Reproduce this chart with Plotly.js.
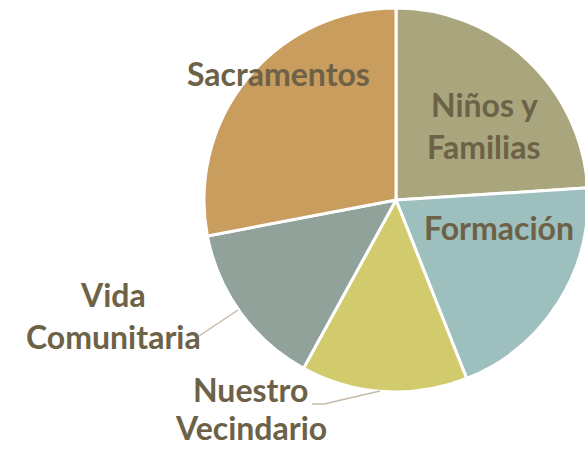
<!DOCTYPE html>
<html><head><meta charset="utf-8">
<script src="https://cdn.plot.ly/plotly-3.0.1.min.js"></script>
<style>html,body{margin:0;padding:0;overflow:hidden;background:#fff}#c{width:588px;height:449px}</style>
</head><body><div id="c"></div>
<script>
const labels = ["Niños y Familias", "Formación", "Nuestro Vecindario", "Vida Comunitaria", "Sacramentos"];
const labelLines = [["Niños y", "Familias"], ["Formación"], ["Nuestro", "Vecindario"], ["Vida", "Comunitaria"], ["Sacramentos"]];
const values = [24, 20, 14, 14, 28];
const colors = ["#A9A57C", "#9DBFBE", "#D2CB6D", "#91A29A", "#C89D5E"];

const W = 588, H = 449;
const px = (x) => x / W, py = (y) => 1 - y / H;
// label line positions (pixels): [x, first line y, line gap]
const labelPos = [[484, 104, 42], [499, 227, 42], [251, 389, 40], [113, 294, 42], [278, 73, 42]];
const txtColor = "#6D6248";
const font = {family: "Lato, 'Open Sans', sans-serif", size: 32, color: txtColor, weight: 700};

const annotations = [];
labelLines.forEach((lines, i) => {
  lines.forEach((t, j) => {
    const yPix = labelPos[i][1] + j * labelPos[i][2];
    const atBottom = yPix > 420;
    annotations.push({
      text: "<b>" + t + "</b>", x: px(labelPos[i][0]), y: atBottom ? 0 : py(yPix),
      xref: "paper", yref: "paper", showarrow: false, font: font,
      xanchor: "center", yanchor: atBottom ? "bottom" : "middle", align: "center"
    });
  });
});

const lineCol = "#C6BBA8";
const ln = (x0, y0, x1, y1) => ({type: "line", xref: "paper", yref: "paper",
  x0: px(x0), y0: py(y0), x1: px(x1), y1: py(y1), line: {color: lineCol, width: 1.5}});
const shapes = [ln(199, 336, 238, 310), ln(312, 404, 324, 404), ln(324, 404, 380, 391)];

const data = [{
  type: "pie", labels: labels, values: values, sort: false, direction: "clockwise", rotation: 0,
  marker: {colors: colors, line: {color: "#ffffff", width: 3}},
  textinfo: "none", hoverinfo: "label+percent",
  domain: {x: [204 / W, 1], y: [py(392), py(8)]}
}];

const layout = {
  width: W, height: H, margin: {l: 0, r: 0, t: 0, b: 0},
  paper_bgcolor: "#ffffff", showlegend: false,
  annotations: annotations, shapes: shapes
};
Plotly.newPlot("c", data, layout, {displayModeBar: false, staticPlot: true});
</script></body></html>
